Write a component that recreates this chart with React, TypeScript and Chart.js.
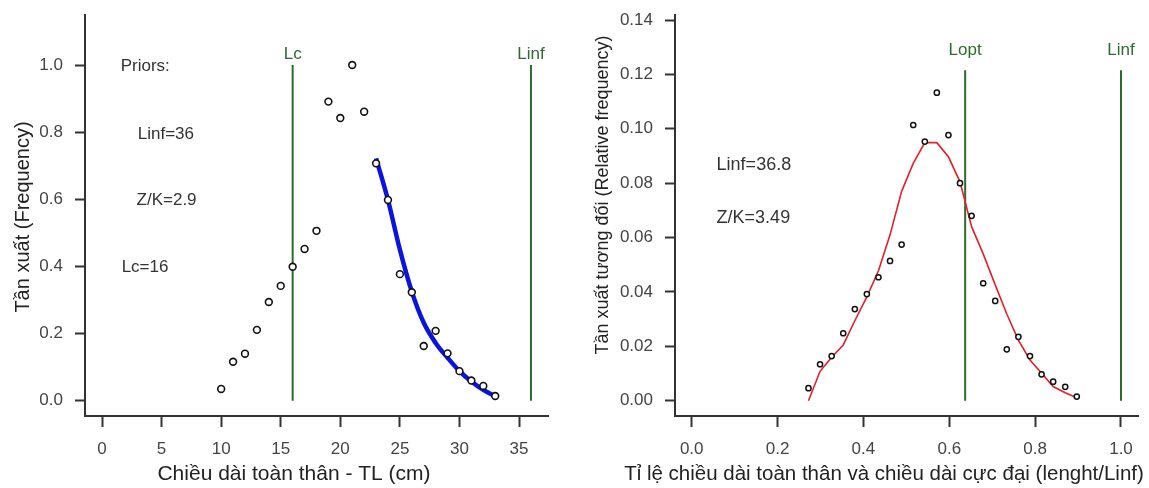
import React, { useEffect, useRef } from "react";
import { Chart, registerables } from "chart.js";

Chart.register(...registerables);

// ---------- Left panel data (length-frequency, TL in cm) ----------
const lengthTL = [10, 11, 12, 13, 14, 15, 16, 17, 18, 19, 20, 21, 22, 23, 24, 25, 26, 27, 28, 29, 30, 31, 32, 33];
const frequency = [0.035, 0.116, 0.140, 0.211, 0.294, 0.342, 0.399, 0.452, 0.506, 0.891, 0.842, 1.0, 0.861, 0.707, 0.598, 0.377, 0.323, 0.163, 0.208, 0.141, 0.088, 0.060, 0.044, 0.014];
const catchCurveLength = [23, 24, 25, 26, 27, 28, 29, 30, 31, 32, 33];
const catchCurveFreq = [0.722, 0.598, 0.45, 0.325, 0.232, 0.172, 0.128, 0.088, 0.057, 0.032, 0.013];
const leftXTicks = [0, 5, 10, 15, 20, 25, 30, 35];
const leftYTicks = [0, 0.2, 0.4, 0.6, 0.8, 1.0];
const Lc = 16;
const LinfLeft = 36;
const leftRefTop = 1.0;

// ---------- Right panel data (relative length = length / Linf) ----------
const relLength = [0.272, 0.299, 0.326, 0.353, 0.380, 0.408, 0.435, 0.462, 0.489, 0.516, 0.543, 0.571, 0.598, 0.625, 0.652, 0.679, 0.707, 0.734, 0.761, 0.788, 0.815, 0.842, 0.870, 0.897];
const relFrequency = [0.0046, 0.0134, 0.0164, 0.0248, 0.0337, 0.0392, 0.0454, 0.0514, 0.0574, 0.1014, 0.0953, 0.1133, 0.0977, 0.0800, 0.0680, 0.0432, 0.0367, 0.0189, 0.0235, 0.0164, 0.0097, 0.0070, 0.0051, 0.0015];
const relFit = [0.0, 0.0108, 0.016, 0.0205, 0.0294, 0.0382, 0.0478, 0.061, 0.077, 0.0873, 0.0949, 0.0949, 0.0897, 0.0805, 0.064, 0.054, 0.0426, 0.0319, 0.0223, 0.015, 0.0101, 0.0052, 0.0029, 0.0011];
const rightXTicks = [0, 0.2, 0.4, 0.6, 0.8, 1.0];
const rightYTicks = [0, 0.02, 0.04, 0.06, 0.08, 0.1, 0.12, 0.14];
const Lopt = 0.637;
const LinfRight = 1.0;
const rightRefTop = 0.1215;

// ---------- Text ----------
const leftNotes = ["Priors:", "Linf=36", "Z/K=2.9", "Lc=16"];
const rightNotes = ["Linf=36.8", "Z/K=3.49"];

const FONT = '"Liberation Sans", Arial, Helvetica, sans-serif';
const GREEN = "#2f6a2f";
const AXIS = "#333333";

type Note = { text: string; x: number; y: number };
type Title = { text: string; x: number; y: number; size: number; rotate?: boolean };

function overlay(notes: Note[], noteSize: number, lineLabels: Note[], titles: Title[]) {
  return {
    id: "overlay",
    afterDraw(chart: any) {
      const ctx = chart.ctx;
      const xs = chart.scales.x;
      const ys = chart.scales.y;
      ctx.save();
      ctx.font = `${noteSize}px ${FONT}`;
      ctx.fillStyle = "#333";
      ctx.textAlign = "left";
      ctx.textBaseline = "middle";
      for (const n of notes) ctx.fillText(n.text, xs.getPixelForValue(n.x), ys.getPixelForValue(n.y));
      ctx.font = `17px ${FONT}`;
      ctx.fillStyle = GREEN;
      ctx.textAlign = "center";
      for (const l of lineLabels) ctx.fillText(l.text, xs.getPixelForValue(l.x), ys.getPixelForValue(l.y));
      ctx.fillStyle = "#222";
      for (const t of titles) {
        ctx.font = `${t.size}px ${FONT}`;
        ctx.save();
        ctx.translate(t.x, t.y);
        if (t.rotate) ctx.rotate(-Math.PI / 2);
        ctx.textAlign = "center";
        ctx.textBaseline = "middle";
        ctx.fillText(t.text, 0, 0);
        ctx.restore();
      }
      ctx.restore();
    },
  };
}

function axisX(min: number, max: number, ticks: number[], fmt: (v: number) => string) {
  return {
    type: "linear",
    position: "bottom",
    min,
    max,
    bounds: "data",
    afterBuildTicks: (s: any) => {
      s.ticks = ticks.map((v) => ({ value: v }));
    },
    afterFit: (s: any) => {
      s.height = 72;
      s.paddingLeft = 0;
      s.paddingRight = 0;
    },
    ticks: {
      autoSkip: false,
      maxRotation: 0,
      padding: 12,
      color: "#444",
      font: { size: 17, family: FONT },
      callback: (v: any) => fmt(Number(v)),
    },
    grid: { display: true, drawOnChartArea: false, drawTicks: true, tickLength: 11, tickColor: AXIS, tickWidth: 2, color: AXIS },
    border: { display: true, color: AXIS, width: 2 },
  };
}

function axisY(min: number, max: number, ticks: number[], fmt: (v: number) => string, width: number) {
  return {
    type: "linear",
    position: "left",
    min,
    max,
    bounds: "data",
    afterBuildTicks: (s: any) => {
      s.ticks = ticks.map((v) => ({ value: v }));
    },
    afterFit: (s: any) => {
      s.width = width;
      s.paddingTop = 0;
      s.paddingBottom = 0;
    },
    ticks: {
      autoSkip: false,
      padding: 12,
      color: "#444",
      font: { size: 17, family: FONT },
      callback: (v: any) => fmt(Number(v)),
    },
    grid: { display: true, drawOnChartArea: false, drawTicks: true, tickLength: 10, tickColor: AXIS, tickWidth: 2, color: AXIS },
    border: { display: true, color: AXIS, width: 2 },
  };
}

function vline(x: number, top: number) {
  return {
    data: [
      { x, y: 0 },
      { x, y: top },
    ],
    showLine: true,
    borderColor: GREEN,
    borderWidth: 2,
    pointRadius: 0,
  };
}

function leftConfig(): any {
  return {
    type: "scatter",
    data: {
      datasets: [
        {
          data: lengthTL.map((x, i) => ({ x, y: frequency[i] })),
          pointStyle: "circle",
          pointRadius: 3.4,
          pointBorderWidth: 1.6,
          pointBorderColor: "#111",
          pointBackgroundColor: "#fff",
          showLine: false,
        },
        {
          data: catchCurveLength.map((x, i) => ({ x, y: catchCurveFreq[i] })),
          showLine: true,
          borderColor: "#0a14dc",
          borderWidth: 4.5,
          pointRadius: 0,
          cubicInterpolationMode: "monotone",
        },
        vline(Lc, leftRefTop),
        vline(LinfLeft, leftRefTop),
      ],
    },
    options: {
      animation: false,
      responsive: false,
      devicePixelRatio: 1,
      layout: { padding: { left: 0, right: 26, top: 15, bottom: 0 } },
      plugins: { legend: { display: false }, tooltip: { enabled: false } },
      scales: {
        x: axisX(-1.427, 37.43, leftXTicks, (v) => String(v)),
        y: axisY(-0.0456, 1.149, leftYTicks, (v) => v.toFixed(1), 85),
      },
    },
    plugins: [
      overlay(
        [
          { text: leftNotes[0], x: 1.57, y: 0.995 },
          { text: leftNotes[1], x: 3.0, y: 0.795 },
          { text: leftNotes[2], x: 2.9, y: 0.597 },
          { text: leftNotes[3], x: 1.65, y: 0.397 },
        ],
        17,
        [
          { text: "Lc", x: Lc, y: 1.033 },
          { text: "Linf", x: LinfLeft, y: 1.033 },
        ],
        [
          { text: "Tần xuất (Frequency)", x: 23, y: 217, size: 20, rotate: true },
          { text: "Chiều dài toàn thân - TL (cm)", x: 294, y: 474, size: 21 },
        ]
      ),
    ],
  };
}

function rightConfig(): any {
  return {
    type: "scatter",
    data: {
      datasets: [
        {
          data: relLength.map((x, i) => ({ x, y: relFrequency[i] })),
          pointStyle: "circle",
          pointRadius: 2.6,
          pointBorderWidth: 1.5,
          pointBorderColor: "#111",
          pointBackgroundColor: "#fff",
          showLine: false,
        },
        {
          data: relLength.map((x, i) => ({ x, y: relFit[i] })),
          showLine: true,
          borderColor: "#e0202c",
          borderWidth: 1.6,
          pointRadius: 0,
        },
        vline(Lopt, rightRefTop),
        vline(LinfRight, rightRefTop),
      ],
    },
    options: {
      animation: false,
      responsive: false,
      devicePixelRatio: 1,
      layout: { padding: { left: 0, right: 11, top: 15, bottom: 0 } },
      plugins: { legend: { display: false }, tooltip: { enabled: false } },
      scales: {
        x: axisX(-0.0389, 1.0396, rightXTicks, (v) => v.toFixed(1)),
        y: axisY(-0.00563, 0.14185, rightYTicks, (v) => v.toFixed(2), 101),
      },
    },
    plugins: [
      overlay(
        [
          { text: rightNotes[0], x: 0.058, y: 0.0867 },
          { text: rightNotes[1], x: 0.058, y: 0.0673 },
        ],
        18,
        [
          { text: "Lopt", x: Lopt, y: 0.1289 },
          { text: "Linf", x: LinfRight, y: 0.1289 },
        ],
        [
          { text: "Tần xuất tương đối (Relative frequency)", x: 29, y: 195, size: 18, rotate: true },
          { text: "Tỉ lệ chiều dài toàn thân và chiều dài cực đại (lenght/Linf)", x: 310, y: 474, size: 20.5 },
        ]
      ),
    ],
  };
}

function ChartCanvas({ make, left, width }: { make: () => any; left: number; width: number }) {
  const ref = useRef<HTMLCanvasElement | null>(null);
  useEffect(() => {
    if (!ref.current) return;
    const chart = new Chart(ref.current, make());
    return () => chart.destroy();
  }, []);
  return (
    <canvas
      ref={ref}
      width={width}
      height={488}
      style={{ position: "absolute", left, top: 0, width, height: 488, display: "block" }}
    />
  );
}

export default function App() {
  return (
    <div style={{ position: "absolute", left: 0, top: 0, width: 1149, height: 488, background: "#fff", overflow: "hidden" }}>
      <ChartCanvas make={leftConfig} left={0} width={574} />
      <ChartCanvas make={rightConfig} left={574} width={575} />
    </div>
  );
}
